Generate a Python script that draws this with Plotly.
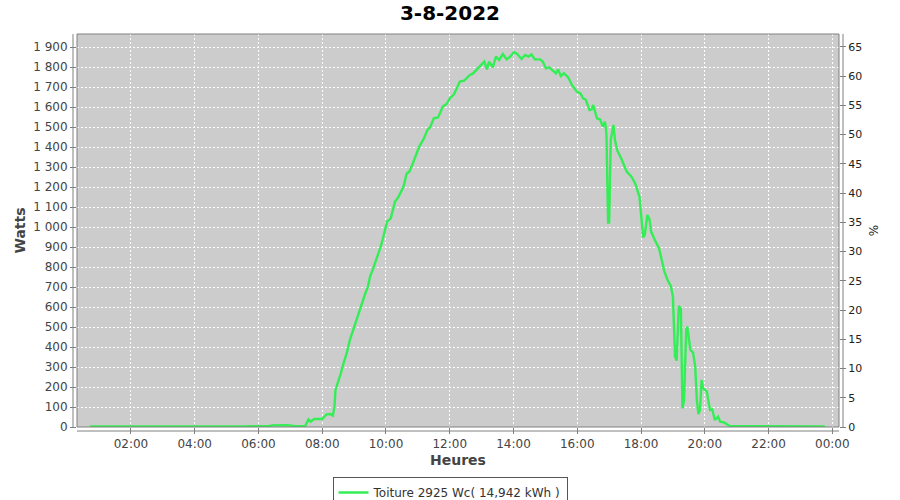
import plotly.graph_objects as go

DAY = "2022-08-03"
PEAK_WC = 2925
TITLE = "3-8-2022"
SERIES_NAME = "Toiture 2925 Wc( 14,942 kWh )"

times = [
    "00:43", "01:45", "03:00", "04:30", "05:30", "06:20", "06:25", "06:50", "06:55", "07:10", "07:28",
    "07:34", "07:38", "07:45", "08:00", "08:08", "08:15", "08:20", "08:23", "08:25", "08:30",
    "08:35", "08:40", "08:46", "08:52", "08:58", "09:03", "09:09", "09:14", "09:20", "09:26",
    "09:30", "09:36", "09:41", "09:45", "09:50", "09:54", "10:02", "10:09", "10:17", "10:23",
    "10:33", "10:39", "10:44", "10:50", "10:55", "11:03", "11:10", "11:18", "11:23", "11:30",
    "11:38", "11:47", "11:54", "12:00", "12:08", "12:19", "12:27", "12:38", "12:44", "12:51",
    "12:58", "13:05", "13:10", "13:14", "13:21", "13:27", "13:33", "13:40", "13:47", "13:53",
    "14:01", "14:07", "14:15", "14:22", "14:28", "14:34", "14:40", "14:50", "14:55", "15:01",
    "15:07", "15:15", "15:20", "15:24", "15:29", "15:35", "15:43", "15:50", "15:59", "16:06",
    "16:11", "16:16", "16:23", "16:27", "16:30", "16:37", "16:43", "16:48", "16:52", "16:54",
    "16:55", "16:58", "17:00", "17:03", "17:08", "17:11", "17:15", "17:24", "17:33", "17:42",
    "17:49", "17:57", "18:01", "18:04", "18:07", "18:12", "18:16", "18:19", "18:26", "18:34",
    "18:39", "18:44", "18:50", "18:56", "19:00", "19:02", "19:04", "19:07", "19:11", "19:15",
    "19:17", "19:18", "19:21", "19:25", "19:27", "19:30", "19:33", "19:38", "19:42", "19:45",
    "19:48", "19:51", "19:54", "19:57", "20:04", "20:07", "20:10", "20:14", "20:19", "20:25",
    "20:29", "20:36", "20:41", "20:47", "21:30", "22:15", "23:00", "23:46",
]
watts = [
    3, 4, 3, 3, 3, 4, 8, 6, 9, 4, 5,
    38, 27, 40, 40, 63, 65, 57, 102, 185, 222,
    268, 318, 368, 435, 485, 527, 565, 610, 660, 702,
    752, 793, 830, 868, 902, 940, 1027, 1043, 1127, 1148,
    1202, 1268, 1277, 1315, 1352, 1405, 1435, 1485, 1498, 1543,
    1548, 1602, 1615, 1643, 1663, 1727, 1732, 1760, 1768, 1788,
    1810, 1827, 1788, 1827, 1798, 1852, 1835, 1865, 1838, 1850,
    1875, 1865, 1840, 1860, 1852, 1863, 1838, 1838, 1827, 1793,
    1798, 1777, 1768, 1788, 1755, 1768, 1748, 1710, 1677, 1668,
    1643, 1637, 1585, 1588, 1610, 1543, 1538, 1502, 1527, 1493,
    1452, 1022, 1022, 1435, 1510, 1435, 1385, 1335, 1277, 1252,
    1218, 1152, 1052, 948, 960, 1060, 1038, 977, 935, 893,
    835, 777, 735, 705, 652, 527, 352, 332, 605, 593,
    352, 93, 135, 485, 502, 435, 385, 372, 302, 135,
    65, 85, 235, 193, 177, 127, 85, 88, 35, 52,
    27, 23, 13, 5, 4, 4, 3, 3,
]

x_vals = [f"{DAY} {t}" for t in times]
percent = [w / PEAK_WC * 100 for w in watts]

Y_MAX = 1965
FONT = "DejaVu Sans"
AX = "#808080"
TXT = "#444444"

fig = go.Figure()
fig.add_trace(go.Scatter(
    x=x_vals, y=watts, mode="lines", name=SERIES_NAME,
    line=dict(color="#33EE55", width=2.4),
))
fig.add_trace(go.Scatter(
    x=x_vals, y=percent, mode="lines", yaxis="y2", showlegend=False,
    line=dict(color="rgba(0,0,0,0)", width=0), hoverinfo="skip",
))

W, H = 900, 500
ml, mr, mt, mb = 77, 61, 34, 73
pw, ph = W - ml - mr, H - mt - mb
gx, gy = 4 / pw, 4 / ph

fig.update_layout(
    width=W, height=H,
    margin=dict(l=ml, r=mr, t=mt, b=mb, pad=0, autoexpand=False),
    paper_bgcolor="white", plot_bgcolor="#CCCCCC",
    separators=", ",
    font=dict(family=FONT, size=12, color=TXT),
    title=dict(text=f"<b>{TITLE}</b>", x=0.5, xanchor="center", y=1 - 13 / H, yanchor="middle",
               font=dict(family=FONT, size=20, color="#000000")),
    xaxis=dict(
        type="date", automargin=False,
        range=[f"{DAY} 00:18:27", "2022-08-04 00:12:36"],
        tick0=f"{DAY} 00:00", dtick=7200000, tickformat="%H:%M",
        showgrid=True, gridcolor="white", griddash="2px,2px", gridwidth=1,
        ticks="outside", ticklen=6, tickcolor=AX, showline=False, zeroline=False,
        tickfont=dict(family=FONT, size=12, color=TXT),
        title=dict(text="<b>Heures</b>", font=dict(family=FONT, size=14, color=TXT), standoff=4),
    ),
    yaxis=dict(
        automargin=False,
        range=[0, Y_MAX], dtick=100, tick0=0, tickformat=",d",
        showgrid=True, gridcolor="white", griddash="2px,2px", gridwidth=1,
        ticks="outside", ticklen=6, tickcolor=AX, showline=False, zeroline=False,
        tickfont=dict(family=FONT, size=12, color=TXT),
        title=dict(text="<b>Watts</b>", font=dict(family=FONT, size=14, color=TXT), standoff=4),
    ),
    yaxis2=dict(
        automargin=False,
        overlaying="y", side="right", range=[0, Y_MAX / PEAK_WC * 100], dtick=5, tick0=0,
        showgrid=False, zeroline=False, ticks="outside", ticklen=6, tickcolor=AX,
        tickfont=dict(family=FONT, size=11, color="#222222"),
        title=dict(text="%", font=dict(family=FONT, size=12, color="#222222"), standoff=8),
    ),
    legend=dict(
        orientation="h", x=0.5, xanchor="center", xref="container",
        y=1 - 477 / H, yanchor="top", yref="container",
        bordercolor="#555555", borderwidth=1, bgcolor="white",
        font=dict(family=FONT, size=12, color="#333333"),
        itemwidth=30, tracegroupgap=0,
    ),
    showlegend=True,
)

# plot border and offset axis lines (JFreeChart style)
shapes = [
    dict(type="rect", xref="paper", yref="paper", x0=0, y0=0, x1=1, y1=1,
         line=dict(color=AX, width=1), fillcolor="rgba(0,0,0,0)", layer="above"),
    dict(type="line", xref="paper", yref="paper", x0=-gx, x1=-gx, y0=0, y1=1,
         line=dict(color=AX, width=1)),
    dict(type="line", xref="paper", yref="paper", x0=1 + gx, x1=1 + gx, y0=0, y1=1,
         line=dict(color=AX, width=1)),
    dict(type="line", xref="paper", yref="paper", x0=0, x1=1, y0=-gy, y1=-gy,
         line=dict(color=AX, width=1)),
]
fig.update_layout(shapes=shapes)

fig.write_html(
    "out.html",
    config={"displayModeBar": False},
    post_script="document.body.style.margin='0';document.body.style.overflow='hidden';",
)
